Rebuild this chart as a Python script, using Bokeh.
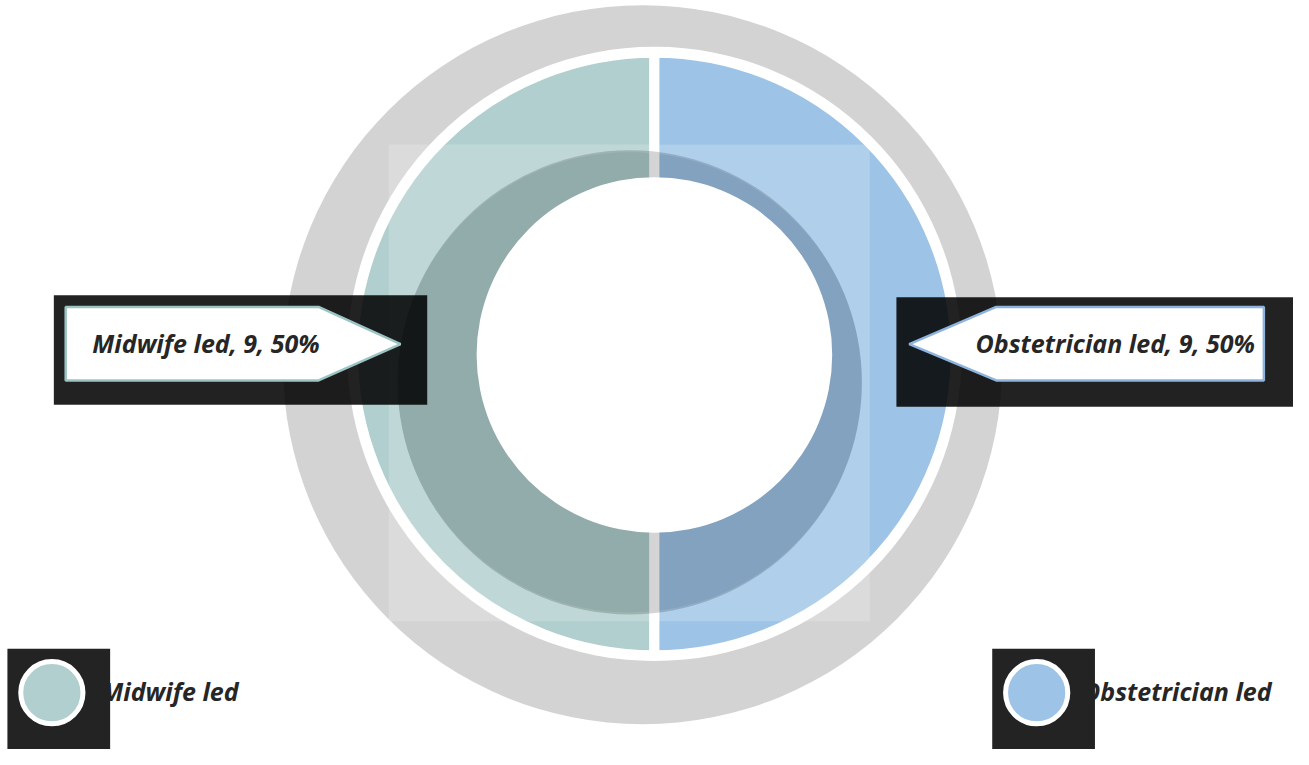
import math
import numpy as np
from bokeh.plotting import figure
from bokeh.models import Range1d
from bokeh.core.properties import value
from bokeh.embed import file_html
from bokeh.resources import INLINE

# ---- data ----
categories = ["Midwife led", "Obstetrician led"]
counts = [9, 9]
colors = ["#B0CFCE", "#9DC3E6"]
border_colors = ["#9DC4C4", "#8DB4DE"]

total = sum(counts)
percents = [round(100 * c / total) for c in counts]
labels = [f"{c}, {n}, {p}%" for c, n, p in zip(categories, counts, percents)]

# layout canvas (reference pixel space), y measured from top
W, H = 1309, 765
def dy(y):
    return H - y

p = figure(width=1293, height=749, output_backend="svg", toolbar_location=None,
           x_range=Range1d(0, W), y_range=Range1d(0, H),
           x_axis_location=None, y_axis_location=None, min_border=0,
           outline_line_color=None, background_fill_color="white", border_fill_color="white")
p.grid.visible = False

cx, cy = 662, 361
FONT = value("Open Sans")
FS = "25px"
TXT = "#262626"

# outer gray shadow disk
p.circle(x=[650], y=[dy(372)], radius=364, fill_color="#D3D3D3", line_color=None)
# white ring
p.circle(x=[cx], y=[dy(cy)], radius=311, fill_color="white", line_color=None)

# wedges
starts, ends = [], []
a = math.pi / 2
for c in counts:
    starts.append(a)
    a += 2 * math.pi * c / total
    ends.append(a)
p.wedge(x=[cx] * len(counts), y=[dy(cy)] * len(counts), radius=305,
        start_angle=starts, end_angle=ends, fill_color=colors,
        line_color="white", line_width=10)

# translucent white square with a hole where the inner shadow lies
sh_x, sh_y, sh_r = 637, 390, 235
t = np.linspace(0, 2 * np.pi, 241)[:-1]
hole_x = list(sh_x + sh_r * np.cos(t))
hole_y = list(dy(sh_y) + sh_r * np.sin(t))
sq_x = [393, 880, 880, 393]
sq_y = [dy(147), dy(147), dy(634), dy(634)]
p.multi_polygons(xs=[[[sq_x, hole_x]]], ys=[[[sq_y, hole_y]]],
                 fill_color="white", fill_alpha=0.2, line_color=None)

# inner shadow
p.circle(x=[sh_x], y=[dy(sh_y)], radius=sh_r, fill_color="black", fill_alpha=0.17, line_color=None)

# white hole
p.circle(x=[cx], y=[dy(362)], radius=180, fill_color="white", line_color=None)

# ---- callouts ----
# left
p.quad(left=[54], right=[432], top=[dy(301)], bottom=[dy(413)],
       fill_color="black", fill_alpha=0.865, line_color=None)
p.patch(x=[66, 322, 405, 322, 66], y=[dy(313), dy(313), dy(351), dy(388), dy(388)],
        fill_color="white", line_color=border_colors[0], line_width=2.5)
p.text(x=[93], y=[dy(350)], text=[labels[0]], text_align="left", text_baseline="middle",
       text_font=FONT, text_font_style="bold italic", text_font_size=FS, text_color=TXT)

# right
p.quad(left=[907], right=[1309], top=[dy(303)], bottom=[dy(415)],
       fill_color="black", fill_alpha=0.865, line_color=None)
p.patch(x=[1279, 1008, 920, 1008, 1279], y=[dy(313), dy(313), dy(351), dy(388), dy(388)],
        fill_color="white", line_color=border_colors[1], line_width=2.5)
p.text(x=[1270], y=[dy(350)], text=[labels[1]], text_align="right", text_baseline="middle",
       text_font=FONT, text_font_style="bold italic", text_font_size=FS, text_color=TXT)

# ---- legend ----
leg_box_left = [7, 1004]
leg_text_x = [102, 1095]
for i in range(len(categories)):
    p.text(x=[leg_text_x[i]], y=[dy(705)], text=[categories[i]], text_align="left",
           text_baseline="middle", text_font=FONT, text_font_style="bold italic",
           text_font_size=FS, text_color=TXT)
    p.quad(left=[leg_box_left[i]], right=[leg_box_left[i] + 104], top=[dy(662)], bottom=[dy(765)],
           fill_color="#232323", line_color=None)
    p.circle(x=[leg_box_left[i] + 45], y=[dy(707)], radius=31.5, fill_color=colors[i],
             line_color="white", line_width=5)

open("out.html", "w").write(file_html(p, INLINE))
